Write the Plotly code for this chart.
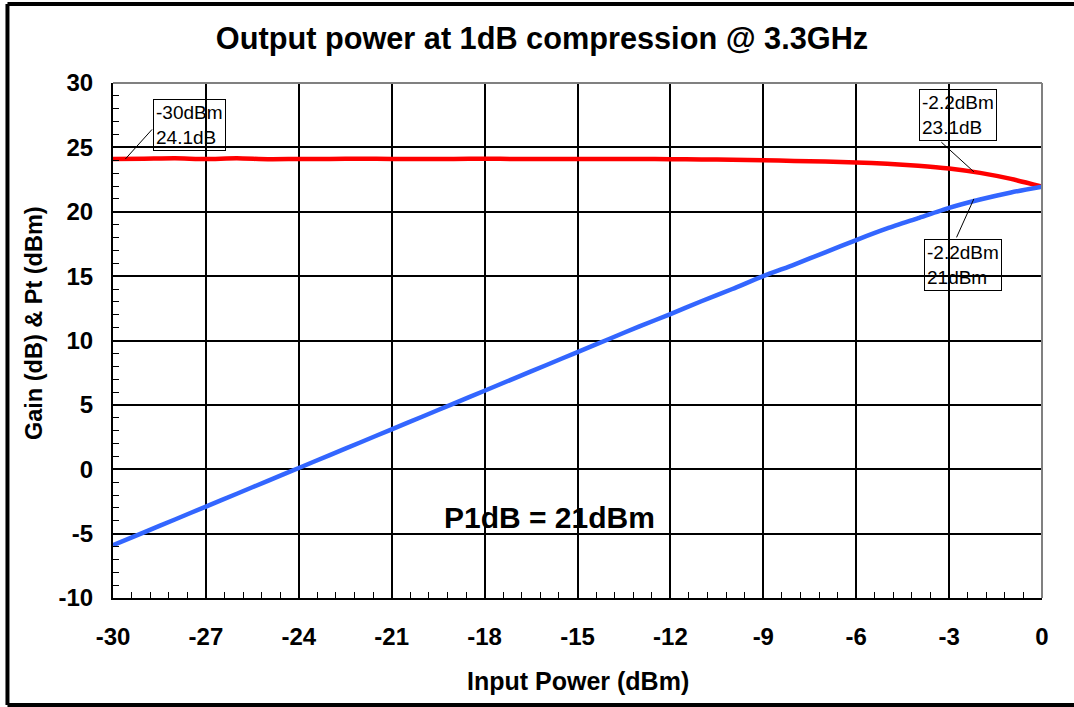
import plotly.graph_objects as go

# ---- data ----
input_power = [-30, -29, -28, -27, -26, -25, -24, -23, -22, -21, -20,
               -19, -18, -17, -16, -15, -14, -13, -12, -11, -10,
               -9, -8, -7, -6, -5, -4, -3, -2, -1, 0]
gain_db = [24.1, 24.12, 24.15, 24.1, 24.15, 24.08, 24.1, 24.1, 24.12, 24.1, 24.1,
           24.1, 24.12, 24.1, 24.1, 24.1, 24.1, 24.1, 24.08, 24.06, 24.04,
           24.0, 23.95, 23.9, 23.83, 23.73, 23.58, 23.36, 23.02, 22.55, 21.95]
pout_dbm = [-5.9, -4.9, -3.9, -2.9, -1.9, -0.9, 0.1, 1.1, 2.1, 3.1, 4.1,
            5.1, 6.1, 7.1, 8.1, 9.1, 10.1, 11.1, 12.05, 13.05, 14.0,
            15.0, 15.9, 16.85, 17.8, 18.7, 19.5, 20.3, 20.95, 21.5, 21.95]

x_ticks = [-30, -27, -24, -21, -18, -15, -12, -9, -6, -3, 0]
y_ticks = [-10, -5, 0, 5, 10, 15, 20, 25, 30]

# callouts: (point x, point y, text, box-left x, box-top y, arrow dx, arrow dy)
callouts = [
    (-29.6, 24.1, "-30dBm<br>24.1dB", -28.71, 28.76, 28, -31),
    (-2.2, 23.1, "-2.2dBm<br>23.1dB", -3.975, 29.53, -34, -31),
    (-2.2, 21.0, "-2.2dBm<br>21dBm", -3.81, 17.88, -18, 40),
]

FONT = "Arial, 'Liberation Sans', sans-serif"

fig = go.Figure()
fig.add_trace(go.Scatter(x=input_power, y=gain_db, mode="lines",
                         line=dict(color="#FF0000", width=4.5, shape="spline", smoothing=0.6),
                         name="Gain"))
fig.add_trace(go.Scatter(x=input_power, y=pout_dbm, mode="lines",
                         line=dict(color="#3366FF", width=4.5, shape="spline", smoothing=0.6),
                         name="Pout"))

annotations = []
for px_, py_, txt, bx, by, dx, dy in callouts:
    annotations.append(dict(x=px_, y=py_, xref="x", yref="y", text="",
                            showarrow=True, arrowhead=0, arrowwidth=1,
                            arrowcolor="black", ax=dx, ay=dy, standoff=0))
    annotations.append(dict(x=bx, y=by, xref="x", yref="y", text=txt,
                            showarrow=False, xanchor="left", yanchor="top",
                            align="left", bordercolor="black", borderwidth=1,
                            borderpad=2, font=dict(family=FONT, size=19, color="black")))

annotations.append(dict(x=-15.89, y=-3.71, xref="x", yref="y", text="P1dB = 21dBm",
                        showarrow=False, xanchor="center", yanchor="middle",
                        font=dict(family=FONT, size=30, color="black", weight="bold")))
annotations.append(dict(x=0.5, y=-0.161, xref="paper", yref="paper",
                        text="Input Power (dBm)", showarrow=False,
                        xanchor="center", yanchor="middle",
                        font=dict(family=FONT, size=25, color="black", weight="bold")))
annotations.append(dict(x=-0.085, y=0.534, xref="paper", yref="paper",
                        text="Gain (dB) & Pt (dBm)", showarrow=False, textangle=-90,
                        xanchor="center", yanchor="middle",
                        font=dict(family=FONT, size=23.5, color="black", weight="bold")))

border = dict(color="black", width=4)
shapes = [
    # plot frame top and right (gray)
    dict(type="line", xref="x domain", yref="y domain", x0=0, x1=1, y0=1, y1=1,
         line=dict(color="#808080", width=2), layer="above"),
    dict(type="line", xref="x domain", yref="y domain", x0=1, x1=1, y0=0, y1=1,
         line=dict(color="#808080", width=2), layer="above"),
    # outer chart border (left, top, bottom; right edge lies outside the picture)
    dict(type="line", xref="paper", yref="paper", x0=-0.1136, x1=-0.1136,
         y0=-0.2078, y1=1.1534, line=border, layer="above"),
    dict(type="line", xref="paper", yref="paper", x0=-0.1136, x1=1.2,
         y0=1.1534, y1=1.1534, line=border, layer="above"),
    dict(type="line", xref="paper", yref="paper", x0=-0.1136, x1=1.2,
         y0=-0.2078, y1=-0.2078, line=border, layer="above"),
]

fig.update_layout(
    width=1074, height=707,
    margin=dict(l=113, r=32, t=83, b=109),
    paper_bgcolor="white", plot_bgcolor="white",
    showlegend=False,
    title=dict(text="Output power at 1dB compression @ 3.3GHz", x=542 / 1074, xref="container",
               y=1 - 38 / 707, yref="container", xanchor="center", yanchor="middle",
               font=dict(family=FONT, size=30.7, color="black", weight="bold")),
    annotations=annotations,
    shapes=shapes,
)
fig.update_xaxes(range=[-30, 0], tickvals=x_ticks, ticktext=[str(v) for v in x_ticks],
                 showgrid=True, gridcolor="black", gridwidth=1.5,
                 zeroline=False, showline=True, linecolor="black", linewidth=2,
                 ticks="inside", ticklen=6, tickcolor="black", tickwidth=1,
                 ticklabelstandoff=16,
                 minor=dict(dtick=0.6, tick0=0, ticks="inside", ticklen=6,
                            tickcolor="black", tickwidth=1, showgrid=False),
                 tickfont=dict(family=FONT, size=24, color="black", weight="bold"))
fig.update_yaxes(range=[-10, 30], tickvals=y_ticks, ticktext=[str(v) for v in y_ticks],
                 showgrid=True, gridcolor="black", gridwidth=1.5,
                 zeroline=False, showline=True, linecolor="black", linewidth=2,
                 ticks="inside", ticklen=6, tickcolor="black", tickwidth=1,
                 ticklabelstandoff=13,
                 minor=dict(dtick=1, tick0=0, ticks="inside", ticklen=6,
                            tickcolor="black", tickwidth=1, showgrid=False),
                 tickfont=dict(family=FONT, size=24, color="black", weight="bold"))

fig.write_html("out.html", config={"displayModeBar": False},
               post_script="document.body.style.margin='0';document.body.style.overflow='hidden';")
